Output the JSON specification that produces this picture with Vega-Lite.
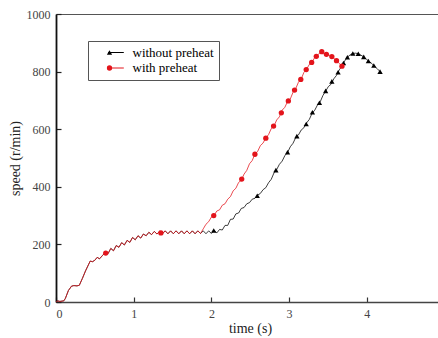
{
  "$schema": "https://vega.github.io/schema/vega-lite/v6.json",
  "width": 382,
  "height": 288,
  "autosize": {"type": "none"},
  "padding": {"left": 56, "top": 14, "right": 0, "bottom": 36},
  "background": "white",
  "config": {
    "view": {"stroke": null},
    "font": "Liberation Serif",
    "axis": {"labelFont": "Liberation Serif", "titleFont": "Liberation Serif"},
    "legend": {"labelFont": "Liberation Serif"}
  },
  "datasets": {
    "lines": [
      {"series": "without preheat", "t": 0, "speed": 0},
      {"series": "without preheat", "t": 0.02, "speed": 4},
      {"series": "without preheat", "t": 0.05, "speed": 2},
      {"series": "without preheat", "t": 0.1, "speed": 4},
      {"series": "without preheat", "t": 0.12, "speed": 12},
      {"series": "without preheat", "t": 0.16, "speed": 40},
      {"series": "without preheat", "t": 0.2, "speed": 55},
      {"series": "without preheat", "t": 0.23, "speed": 57},
      {"series": "without preheat", "t": 0.27, "speed": 56},
      {"series": "without preheat", "t": 0.3, "speed": 58},
      {"series": "without preheat", "t": 0.34, "speed": 82},
      {"series": "without preheat", "t": 0.38, "speed": 108},
      {"series": "without preheat", "t": 0.41, "speed": 125},
      {"series": "without preheat", "t": 0.44, "speed": 142},
      {"series": "without preheat", "t": 0.47, "speed": 140},
      {"series": "without preheat", "t": 0.5, "speed": 145},
      {"series": "without preheat", "t": 0.53, "speed": 155},
      {"series": "without preheat", "t": 0.56, "speed": 150},
      {"series": "without preheat", "t": 0.6, "speed": 162},
      {"series": "without preheat", "t": 0.635, "speed": 172},
      {"series": "without preheat", "t": 0.67, "speed": 168},
      {"series": "without preheat", "t": 0.705, "speed": 186},
      {"series": "without preheat", "t": 0.74, "speed": 178},
      {"series": "without preheat", "t": 0.775, "speed": 196},
      {"series": "without preheat", "t": 0.81, "speed": 190},
      {"series": "without preheat", "t": 0.845, "speed": 206},
      {"series": "without preheat", "t": 0.88, "speed": 198},
      {"series": "without preheat", "t": 0.915, "speed": 214},
      {"series": "without preheat", "t": 0.95, "speed": 207},
      {"series": "without preheat", "t": 0.985, "speed": 224},
      {"series": "without preheat", "t": 1.02, "speed": 216},
      {"series": "without preheat", "t": 1.055, "speed": 230},
      {"series": "without preheat", "t": 1.09, "speed": 222},
      {"series": "without preheat", "t": 1.125, "speed": 236},
      {"series": "without preheat", "t": 1.16, "speed": 230},
      {"series": "without preheat", "t": 1.195, "speed": 242},
      {"series": "without preheat", "t": 1.23, "speed": 234},
      {"series": "without preheat", "t": 1.265, "speed": 245},
      {"series": "without preheat", "t": 1.3, "speed": 236},
      {"series": "without preheat", "t": 1.335, "speed": 246},
      {"series": "without preheat", "t": 1.37, "speed": 237},
      {"series": "without preheat", "t": 1.405, "speed": 247},
      {"series": "without preheat", "t": 1.44, "speed": 237},
      {"series": "without preheat", "t": 1.475, "speed": 247},
      {"series": "without preheat", "t": 1.51, "speed": 237},
      {"series": "without preheat", "t": 1.545, "speed": 247},
      {"series": "without preheat", "t": 1.58, "speed": 237},
      {"series": "without preheat", "t": 1.615, "speed": 247},
      {"series": "without preheat", "t": 1.65, "speed": 237},
      {"series": "without preheat", "t": 1.685, "speed": 247},
      {"series": "without preheat", "t": 1.72, "speed": 237},
      {"series": "without preheat", "t": 1.755, "speed": 247},
      {"series": "without preheat", "t": 1.79, "speed": 237},
      {"series": "without preheat", "t": 1.825, "speed": 247},
      {"series": "without preheat", "t": 1.86, "speed": 238},
      {"series": "without preheat", "t": 1.895, "speed": 247},
      {"series": "without preheat", "t": 1.93, "speed": 237},
      {"series": "without preheat", "t": 1.965, "speed": 247},
      {"series": "without preheat", "t": 2.0, "speed": 238},
      {"series": "without preheat", "t": 2.035, "speed": 248},
      {"series": "without preheat", "t": 2.07, "speed": 240},
      {"series": "without preheat", "t": 2.105, "speed": 252},
      {"series": "without preheat", "t": 2.14, "speed": 250},
      {"series": "without preheat", "t": 2.175, "speed": 266},
      {"series": "without preheat", "t": 2.21, "speed": 266},
      {"series": "without preheat", "t": 2.245, "speed": 287},
      {"series": "without preheat", "t": 2.28, "speed": 288},
      {"series": "without preheat", "t": 2.315, "speed": 306},
      {"series": "without preheat", "t": 2.35, "speed": 309},
      {"series": "without preheat", "t": 2.385, "speed": 325},
      {"series": "without preheat", "t": 2.42, "speed": 328},
      {"series": "without preheat", "t": 2.455, "speed": 341},
      {"series": "without preheat", "t": 2.49, "speed": 345},
      {"series": "without preheat", "t": 2.525, "speed": 357},
      {"series": "without preheat", "t": 2.56, "speed": 360},
      {"series": "without preheat", "t": 2.595, "speed": 371},
      {"series": "without preheat", "t": 2.63, "speed": 377},
      {"series": "without preheat", "t": 2.665, "speed": 390},
      {"series": "without preheat", "t": 2.7, "speed": 397},
      {"series": "without preheat", "t": 2.735, "speed": 414},
      {"series": "without preheat", "t": 2.77, "speed": 426},
      {"series": "without preheat", "t": 2.805, "speed": 448},
      {"series": "without preheat", "t": 2.84, "speed": 460},
      {"series": "without preheat", "t": 2.875, "speed": 478},
      {"series": "without preheat", "t": 2.91, "speed": 489},
      {"series": "without preheat", "t": 2.945, "speed": 508},
      {"series": "without preheat", "t": 2.98, "speed": 519},
      {"series": "without preheat", "t": 3.015, "speed": 539},
      {"series": "without preheat", "t": 3.05, "speed": 551},
      {"series": "without preheat", "t": 3.085, "speed": 571},
      {"series": "without preheat", "t": 3.12, "speed": 580},
      {"series": "without preheat", "t": 3.155, "speed": 597},
      {"series": "without preheat", "t": 3.19, "speed": 605},
      {"series": "without preheat", "t": 3.225, "speed": 622},
      {"series": "without preheat", "t": 3.26, "speed": 634},
      {"series": "without preheat", "t": 3.295, "speed": 655},
      {"series": "without preheat", "t": 3.33, "speed": 666},
      {"series": "without preheat", "t": 3.365, "speed": 684},
      {"series": "without preheat", "t": 3.4, "speed": 695},
      {"series": "without preheat", "t": 3.435, "speed": 717},
      {"series": "without preheat", "t": 3.47, "speed": 732},
      {"series": "without preheat", "t": 3.505, "speed": 748},
      {"series": "without preheat", "t": 3.54, "speed": 756},
      {"series": "without preheat", "t": 3.575, "speed": 775},
      {"series": "without preheat", "t": 3.61, "speed": 787},
      {"series": "without preheat", "t": 3.645, "speed": 806},
      {"series": "without preheat", "t": 3.68, "speed": 819},
      {"series": "without preheat", "t": 3.715, "speed": 837},
      {"series": "without preheat", "t": 3.75, "speed": 850},
      {"series": "without preheat", "t": 3.785, "speed": 858},
      {"series": "without preheat", "t": 3.82, "speed": 863},
      {"series": "without preheat", "t": 3.855, "speed": 864},
      {"series": "without preheat", "t": 3.89, "speed": 862},
      {"series": "without preheat", "t": 3.925, "speed": 857},
      {"series": "without preheat", "t": 3.96, "speed": 851},
      {"series": "without preheat", "t": 3.995, "speed": 843},
      {"series": "without preheat", "t": 4.03, "speed": 835},
      {"series": "without preheat", "t": 4.065, "speed": 828},
      {"series": "without preheat", "t": 4.1, "speed": 818},
      {"series": "without preheat", "t": 4.135, "speed": 810},
      {"series": "without preheat", "t": 4.17, "speed": 800},
      {"series": "without preheat", "t": 4.19, "speed": 794},
      {"series": "with preheat", "t": 0, "speed": 0},
      {"series": "with preheat", "t": 0.02, "speed": 4},
      {"series": "with preheat", "t": 0.05, "speed": 2},
      {"series": "with preheat", "t": 0.1, "speed": 4},
      {"series": "with preheat", "t": 0.12, "speed": 12},
      {"series": "with preheat", "t": 0.16, "speed": 40},
      {"series": "with preheat", "t": 0.2, "speed": 55},
      {"series": "with preheat", "t": 0.23, "speed": 57},
      {"series": "with preheat", "t": 0.27, "speed": 56},
      {"series": "with preheat", "t": 0.3, "speed": 58},
      {"series": "with preheat", "t": 0.34, "speed": 82},
      {"series": "with preheat", "t": 0.38, "speed": 108},
      {"series": "with preheat", "t": 0.41, "speed": 125},
      {"series": "with preheat", "t": 0.44, "speed": 142},
      {"series": "with preheat", "t": 0.47, "speed": 140},
      {"series": "with preheat", "t": 0.5, "speed": 145},
      {"series": "with preheat", "t": 0.53, "speed": 155},
      {"series": "with preheat", "t": 0.56, "speed": 150},
      {"series": "with preheat", "t": 0.6, "speed": 162},
      {"series": "with preheat", "t": 0.635, "speed": 172},
      {"series": "with preheat", "t": 0.67, "speed": 168},
      {"series": "with preheat", "t": 0.705, "speed": 186},
      {"series": "with preheat", "t": 0.74, "speed": 178},
      {"series": "with preheat", "t": 0.775, "speed": 196},
      {"series": "with preheat", "t": 0.81, "speed": 190},
      {"series": "with preheat", "t": 0.845, "speed": 206},
      {"series": "with preheat", "t": 0.88, "speed": 198},
      {"series": "with preheat", "t": 0.915, "speed": 214},
      {"series": "with preheat", "t": 0.95, "speed": 207},
      {"series": "with preheat", "t": 0.985, "speed": 224},
      {"series": "with preheat", "t": 1.02, "speed": 216},
      {"series": "with preheat", "t": 1.055, "speed": 230},
      {"series": "with preheat", "t": 1.09, "speed": 222},
      {"series": "with preheat", "t": 1.125, "speed": 236},
      {"series": "with preheat", "t": 1.16, "speed": 230},
      {"series": "with preheat", "t": 1.195, "speed": 242},
      {"series": "with preheat", "t": 1.23, "speed": 234},
      {"series": "with preheat", "t": 1.265, "speed": 245},
      {"series": "with preheat", "t": 1.3, "speed": 236},
      {"series": "with preheat", "t": 1.335, "speed": 246},
      {"series": "with preheat", "t": 1.37, "speed": 237},
      {"series": "with preheat", "t": 1.405, "speed": 247},
      {"series": "with preheat", "t": 1.44, "speed": 237},
      {"series": "with preheat", "t": 1.475, "speed": 247},
      {"series": "with preheat", "t": 1.51, "speed": 237},
      {"series": "with preheat", "t": 1.545, "speed": 247},
      {"series": "with preheat", "t": 1.58, "speed": 237},
      {"series": "with preheat", "t": 1.615, "speed": 247},
      {"series": "with preheat", "t": 1.65, "speed": 237},
      {"series": "with preheat", "t": 1.685, "speed": 247},
      {"series": "with preheat", "t": 1.72, "speed": 237},
      {"series": "with preheat", "t": 1.755, "speed": 247},
      {"series": "with preheat", "t": 1.79, "speed": 237},
      {"series": "with preheat", "t": 1.825, "speed": 247},
      {"series": "with preheat", "t": 1.86, "speed": 238},
      {"series": "with preheat", "t": 1.895, "speed": 254},
      {"series": "with preheat", "t": 1.93, "speed": 270},
      {"series": "with preheat", "t": 1.965, "speed": 279},
      {"series": "with preheat", "t": 2.0, "speed": 295},
      {"series": "with preheat", "t": 2.035, "speed": 301},
      {"series": "with preheat", "t": 2.07, "speed": 316},
      {"series": "with preheat", "t": 2.105, "speed": 320},
      {"series": "with preheat", "t": 2.14, "speed": 336},
      {"series": "with preheat", "t": 2.175, "speed": 341},
      {"series": "with preheat", "t": 2.21, "speed": 357},
      {"series": "with preheat", "t": 2.245, "speed": 366},
      {"series": "with preheat", "t": 2.28, "speed": 386},
      {"series": "with preheat", "t": 2.315, "speed": 395},
      {"series": "with preheat", "t": 2.35, "speed": 415},
      {"series": "with preheat", "t": 2.385, "speed": 423},
      {"series": "with preheat", "t": 2.42, "speed": 444},
      {"series": "with preheat", "t": 2.455, "speed": 457},
      {"series": "with preheat", "t": 2.49, "speed": 480},
      {"series": "with preheat", "t": 2.525, "speed": 491},
      {"series": "with preheat", "t": 2.56, "speed": 514},
      {"series": "with preheat", "t": 2.595, "speed": 523},
      {"series": "with preheat", "t": 2.63, "speed": 543},
      {"series": "with preheat", "t": 2.665, "speed": 552},
      {"series": "with preheat", "t": 2.7, "speed": 570},
      {"series": "with preheat", "t": 2.735, "speed": 581},
      {"series": "with preheat", "t": 2.77, "speed": 602},
      {"series": "with preheat", "t": 2.805, "speed": 611},
      {"series": "with preheat", "t": 2.84, "speed": 632},
      {"series": "with preheat", "t": 2.875, "speed": 643},
      {"series": "with preheat", "t": 2.91, "speed": 666},
      {"series": "with preheat", "t": 2.945, "speed": 676},
      {"series": "with preheat", "t": 2.98, "speed": 696},
      {"series": "with preheat", "t": 3.015, "speed": 705},
      {"series": "with preheat", "t": 3.05, "speed": 728},
      {"series": "with preheat", "t": 3.085, "speed": 741},
      {"series": "with preheat", "t": 3.12, "speed": 763},
      {"series": "with preheat", "t": 3.155, "speed": 774},
      {"series": "with preheat", "t": 3.19, "speed": 797},
      {"series": "with preheat", "t": 3.225, "speed": 808},
      {"series": "with preheat", "t": 3.26, "speed": 825},
      {"series": "with preheat", "t": 3.295, "speed": 833},
      {"series": "with preheat", "t": 3.33, "speed": 849},
      {"series": "with preheat", "t": 3.365, "speed": 857},
      {"series": "with preheat", "t": 3.4, "speed": 866},
      {"series": "with preheat", "t": 3.42, "speed": 869},
      {"series": "with preheat", "t": 3.45, "speed": 864},
      {"series": "with preheat", "t": 3.48, "speed": 860},
      {"series": "with preheat", "t": 3.515, "speed": 857},
      {"series": "with preheat", "t": 3.55, "speed": 852},
      {"series": "with preheat", "t": 3.58, "speed": 845},
      {"series": "with preheat", "t": 3.61, "speed": 838},
      {"series": "with preheat", "t": 3.645, "speed": 828},
      {"series": "with preheat", "t": 3.68, "speed": 819}
    ],
    "markers": [
      {"series": "without preheat", "t": 2.03, "speed": 248},
      {"series": "without preheat", "t": 2.59, "speed": 369},
      {"series": "without preheat", "t": 2.83, "speed": 458},
      {"series": "without preheat", "t": 2.98, "speed": 520},
      {"series": "without preheat", "t": 3.1, "speed": 576},
      {"series": "without preheat", "t": 3.22, "speed": 618},
      {"series": "without preheat", "t": 3.3, "speed": 659},
      {"series": "without preheat", "t": 3.39, "speed": 692},
      {"series": "without preheat", "t": 3.47, "speed": 733},
      {"series": "without preheat", "t": 3.55, "speed": 766},
      {"series": "without preheat", "t": 3.63, "speed": 798},
      {"series": "without preheat", "t": 3.7, "speed": 830},
      {"series": "without preheat", "t": 3.75, "speed": 850},
      {"series": "without preheat", "t": 3.82, "speed": 863},
      {"series": "without preheat", "t": 3.89, "speed": 862},
      {"series": "without preheat", "t": 3.96, "speed": 851},
      {"series": "without preheat", "t": 4.02, "speed": 837},
      {"series": "without preheat", "t": 4.09, "speed": 821},
      {"series": "without preheat", "t": 4.17, "speed": 800},
      {"series": "with preheat", "t": 0.64, "speed": 170},
      {"series": "with preheat", "t": 1.35, "speed": 240},
      {"series": "with preheat", "t": 2.03, "speed": 300},
      {"series": "with preheat", "t": 2.39, "speed": 427},
      {"series": "with preheat", "t": 2.56, "speed": 513},
      {"series": "with preheat", "t": 2.7, "speed": 569},
      {"series": "with preheat", "t": 2.8, "speed": 611},
      {"series": "with preheat", "t": 2.9, "speed": 657},
      {"series": "with preheat", "t": 2.99, "speed": 698},
      {"series": "with preheat", "t": 3.07, "speed": 736},
      {"series": "with preheat", "t": 3.15, "speed": 773},
      {"series": "with preheat", "t": 3.22, "speed": 807},
      {"series": "with preheat", "t": 3.29, "speed": 832},
      {"series": "with preheat", "t": 3.35, "speed": 853},
      {"series": "with preheat", "t": 3.42, "speed": 869},
      {"series": "with preheat", "t": 3.48, "speed": 860},
      {"series": "with preheat", "t": 3.55, "speed": 852},
      {"series": "with preheat", "t": 3.61, "speed": 838},
      {"series": "with preheat", "t": 3.68, "speed": 819}
    ]
  },
  "layer": [
    {
      "data": {"name": "lines"},
      "mark": {"type": "line", "strokeWidth": 0.9, "strokeOpacity": 0.85},
      "encoding": {
        "x": {
          "field": "t", "type": "quantitative",
          "scale": {"domain": [0, 4.916], "nice": false, "zero": false},
          "axis": {
            "orient": "bottom",
            "values": [0, 0.5, 1, 1.5, 2, 2.5, 3, 3.5, 4, 4.5],
            "format": "d",
            "labelExpr": "datum.value % 1 === 0 ? datum.label : ''",
            "tickSize": {"condition": {"test": "datum.value % 1 === 0", "value": -5}, "value": -3},
            "tickColor": "#333", "tickWidth": 1.2,
            "domainColor": "#444", "domainWidth": 1.5,
            "grid": false,
            "labelFont": "Liberation Serif", "labelFontSize": 12, "labelColor": "#444",
            "labelPadding": 11,
            "title": "time (s)", "titleFont": "Liberation Serif", "titleFontSize": 14,
            "titleFontWeight": "normal", "titleColor": "#222", "titleX": 194, "titlePadding": 2
          }
        },
        "y": {
          "field": "speed", "type": "quantitative",
          "scale": {"domain": [0, 1000], "nice": false},
          "axis": {
            "values": [0, 100, 200, 300, 400, 500, 600, 700, 800, 900, 1000],
            "format": "d",
            "labelExpr": "datum.value % 200 === 0 ? datum.label : ''",
            "tickSize": {"condition": {"test": "datum.value % 200 === 0", "value": -5}, "value": -3},
            "tickColor": "#222", "tickWidth": 1.2,
            "domainColor": "#111", "domainWidth": 1.8,
            "grid": false,
            "labelFont": "Liberation Serif", "labelFontSize": 12, "labelColor": "#444",
            "labelPadding": 11,
            "title": "speed (r/min)", "titleFont": "Liberation Serif", "titleFontSize": 14,
            "titleFontWeight": "normal", "titleColor": "#222", "titlePadding": 4
          }
        },
        "color": {
          "field": "series", "type": "nominal",
          "sort": ["without preheat", "with preheat"],
          "scale": {"range": ["#000000", "#e3141b"]},
          "legend": {
            "orient": "none", "legendX": 32, "legendY": 27,
            "title": null, "strokeColor": "#555", "padding": 5,
            "labelFont": "Liberation Serif", "labelFontSize": 13, "labelColor": "#000",
            "symbolType": "M-2.6,0H2.6", "symbolSize": 36, "symbolStrokeWidth": 1,
            "symbolOffset": 16.5, "labelOffset": 10, "rowPadding": 1.5
          }
        }
      }
    },
    {
      "data": {"name": "markers"},
      "mark": {"type": "point", "filled": true, "opacity": 1, "size": 28},
      "encoding": {
        "x": {
          "field": "t", "type": "quantitative",
          "scale": {"domain": [0, 4.916], "nice": false, "zero": false},
          "axis": {"orient": "top", "labels": false, "ticks": false, "title": null, "grid": false, "domainColor": "#555", "domainWidth": 1.2}
        },
        "y": {"field": "speed", "type": "quantitative", "scale": {"domain": [0, 1000], "nice": false}},
        "fill": {
          "field": "series", "type": "nominal",
          "scale": {"domain": ["without preheat", "with preheat"], "range": ["#000000", "#e3141b"]},
          "legend": {
            "orient": "none", "legendX": 32, "legendY": 27,
            "title": null, "padding": 5,
            "labelExpr": "' '",
            "labelFont": "Liberation Serif", "labelFontSize": 13, "labelColor": "#000",
            "symbolSize": 28, "symbolStrokeWidth": 0,
            "symbolOffset": 10, "labelOffset": 10, "rowPadding": 1.5
          }
        },
        "shape": {
          "field": "series", "type": "nominal",
          "scale": {"domain": ["without preheat", "with preheat"], "range": ["triangle-up", "circle"]},
          "legend": {
            "orient": "none", "legendX": 32, "legendY": 27,
            "title": null, "padding": 5,
            "labelExpr": "' '",
            "labelFont": "Liberation Serif", "labelFontSize": 13, "labelColor": "#000",
            "symbolSize": 28, "symbolStrokeWidth": 0,
            "symbolOffset": 10, "labelOffset": 10, "rowPadding": 1.5
          }
        }
      }
    }
  ],
  "resolve": {"axis": {"x": "independent"}}
}
